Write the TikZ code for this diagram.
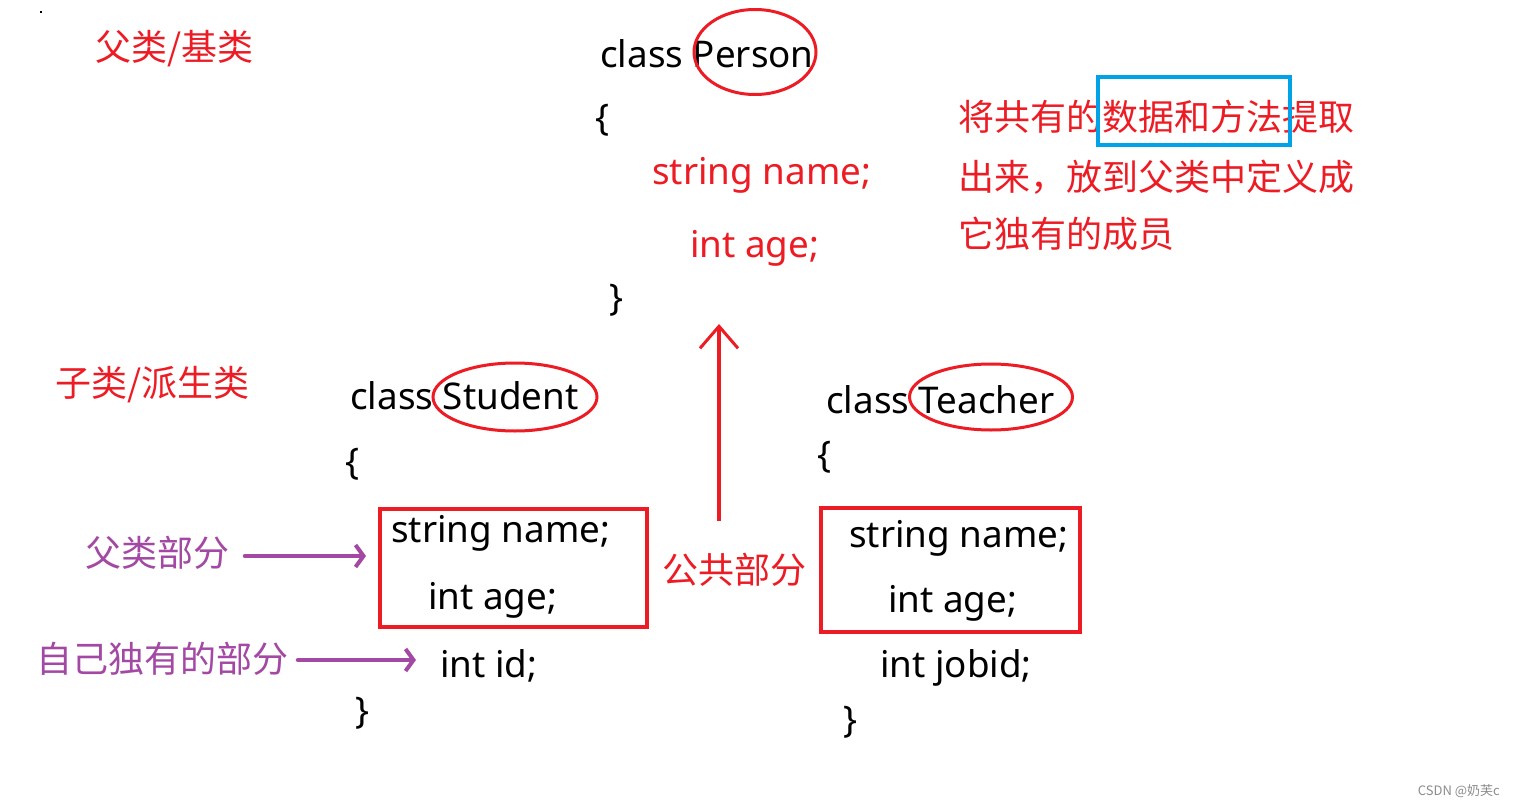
\documentclass[tikz,border=0pt]{standalone}
\usepackage{fontspec}
\setmainfont{Noto Sans}
\newfontfamily\cjk{Noto Sans CJK SC}
\usetikzlibrary{arrows.meta,shapes.geometric}
\definecolor{pred}{HTML}{ED1C24}
\definecolor{ppur}{HTML}{A349A4}
\definecolor{pblue}{HTML}{00A2E8}
\tikzset{
  code/.style={anchor=mid west,inner sep=0pt,yshift=-10pt,font=\fontsize{36.8}{40}\selectfont},
  redcode/.style={code,text=pred},
  cjklabel/.style={anchor=mid west,inner sep=0pt,yshift=-11pt,font=\cjk\fontsize{36}{52}\selectfont},
  redlabel/.style={cjklabel,text=pred},
  purlabel/.style={cjklabel,text=ppur},
  ring/.style={draw=pred,line width=3pt,ellipse,inner sep=0pt},
  redbox/.style={draw=pred,line width=3.2pt,rectangle,inner sep=0pt},
  uparrow/.style={draw=pred,line width=4pt,-{Straight Barb[length=22pt,width=38pt,line width=3pt]}},
  purarrow/.style={draw=ppur,line width=4.5pt,line cap=round,-{Straight Barb[length=8pt,width=22pt,line width=4pt]}},
}
\begin{document}
\begin{tikzpicture}[x=1pt,y=-1pt]
\useasboundingbox (0,0) rectangle (1515,808);
\fill[white] (0,0) rectangle (1515,808);
\node[fill=black,inner sep=0pt,minimum size=2pt] (dot) at (41,12) {};

% Person
\node[redlabel] (base) at (95,47) {父类/基类};
\node[code] (pclass) at (600,55) {class Person};
\node[ring,minimum width=122pt,minimum height=85pt] (pring) at (755,52) {};
\node[code] (pob) at (595,118) {\{};
\node[redcode] (pname) at (652,172) {string name;};
\node[redcode] (page) at (690,245) {int age;};
\node[code] (pcb) at (609,298) {\}};

\node[redlabel] (note1) at (958,117) {将共有的数据和方法提取};
\node[redlabel] (note2) at (958,177) {出来，放到父类中定义成};
\node[redlabel] (note3) at (958,234) {它独有的成员};
\node[draw=pblue,line width=3.2pt,minimum width=192pt,minimum height=68pt,inner sep=0pt] (hl) at (1194,111) {};

% arrow up
\coordinate (aS) at (719,521);
\coordinate (aE) at (719,324);
\draw[uparrow] (aS) -- (aE);
\node[redlabel] (common) at (662,570) {公共部分};

% Student
\node[redlabel] (derived) at (55,383) {子类/派生类};
\node[code] (sclass) at (350,397) {class Student};
\node[ring,minimum width=164pt,minimum height=68pt] (sring) at (515,397) {};
\node[code] (sob) at (345,462) {\{};
\node[redbox,minimum width=267pt,minimum height=118pt] (sbox) at (513.5,568) {};
\node[code] (sname) at (391,530) {string name;};
\node[code] (sage) at (428,597) {int age;};
\node[code] (sid) at (440,665) {int id;};
\node[code] (scb) at (355,711) {\}};

\node[purlabel] (ppart) at (85,553) {父类部分};
\node[purlabel] (own) at (36,659) {自己独有的部分};
\coordinate (p1s) at (245,556);
\coordinate (p1e) at (366,556);
\draw[purarrow] (p1s) -- (p1e);
\coordinate (o1s) at (298,660);
\coordinate (o1e) at (416,660);
\draw[purarrow] (o1s) -- (o1e);

% Teacher
\node[code] (tclass) at (826,401) {class Teacher};
\node[ring,minimum width=163pt,minimum height=66pt] (tring) at (991,397) {};
\node[code] (tob) at (817,455) {\{};
\node[redbox,minimum width=259pt,minimum height=124pt] (tbox) at (950.5,570) {};
\node[code] (tname) at (849,535) {string name;};
\node[code] (tage) at (888,600) {int age;};
\node[code] (tjob) at (880,665) {int jobid;};
\node[code] (tcb) at (843,720) {\}};

\node[anchor=mid east,inner sep=0pt,text=black!45,font=\cjk\fontsize{13}{15}\selectfont] (wm) at (1500,793) {CSDN @奶芙c};
\end{tikzpicture}
\end{document}
